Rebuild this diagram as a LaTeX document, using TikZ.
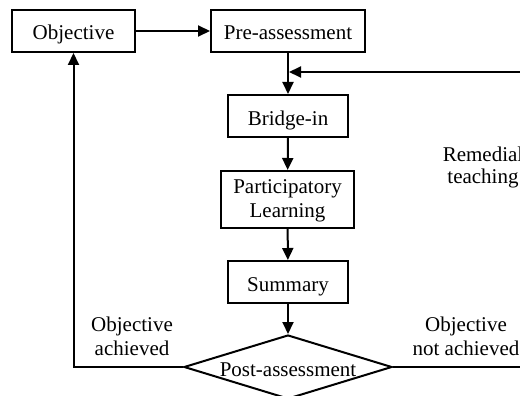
\documentclass[tikz,border=0pt]{standalone}
\usepackage{fontspec}
\setmainfont{Liberation Serif}
\usetikzlibrary{arrows.meta,shapes.geometric}
\begin{document}
\begin{tikzpicture}[x=1pt,y=-1pt,
  every node/.style={font=\fontsize{21}{24}\selectfont, inner sep=0pt},
  box/.style={draw, rectangle, line width=2pt, text height=18pt, text depth=0pt, align=center},
  conn/.style={line width=2pt},
  arr/.style={conn, -{Triangle[length=12pt,width=11pt]}},
  lbl/.style={align=center, anchor=base}]
\useasboundingbox (0,0) rectangle (520,396);

\node[box, minimum width=123pt, minimum height=42pt] (obj) at (73.5,31) {Objective};
\node[box, minimum width=154pt, minimum height=42pt] (pre) at (288,31) {Pre-assessment};
\node[box, minimum width=120pt, minimum height=42pt] (bridge) at (288,116) {Bridge-in};
\node[box, minimum width=133pt, minimum height=57pt, text height=42pt, text depth=7pt] (part) at (287.5,199.5) {Participatory\\Learning};
\node[box, minimum width=120pt, minimum height=42pt] (summ) at (288,282) {Summary};
\node[draw, diamond, line width=2pt, minimum width=208pt, minimum height=64pt,
      text height=18pt, text depth=0pt] (post) at (288,367) {\makebox[0pt]{Post-assessment}};

\node[lbl] (lach) at (132,355) {Objective\\achieved};
\node[lbl] (lnot) at (466,355) {Objective\\not achieved};
\node[lbl, font=\fontsize{21}{22}\selectfont] (lrem) at (483,183) {Remedial\\teaching};

\coordinate (join) at (289,72);
\coordinate (rc) at (560,72);

\draw[arr] (obj) -- (pre);
\draw[arr] (pre) -- (bridge);
\draw[arr] (bridge) -- (part);
\draw[arr] (part) -- (summ);
\draw[arr] (summ) -- (post);
\draw[arr] (post.west) -| (obj.south);
\draw[arr] (post.east) -| (rc) -- (join);
\end{tikzpicture}
\end{document}
